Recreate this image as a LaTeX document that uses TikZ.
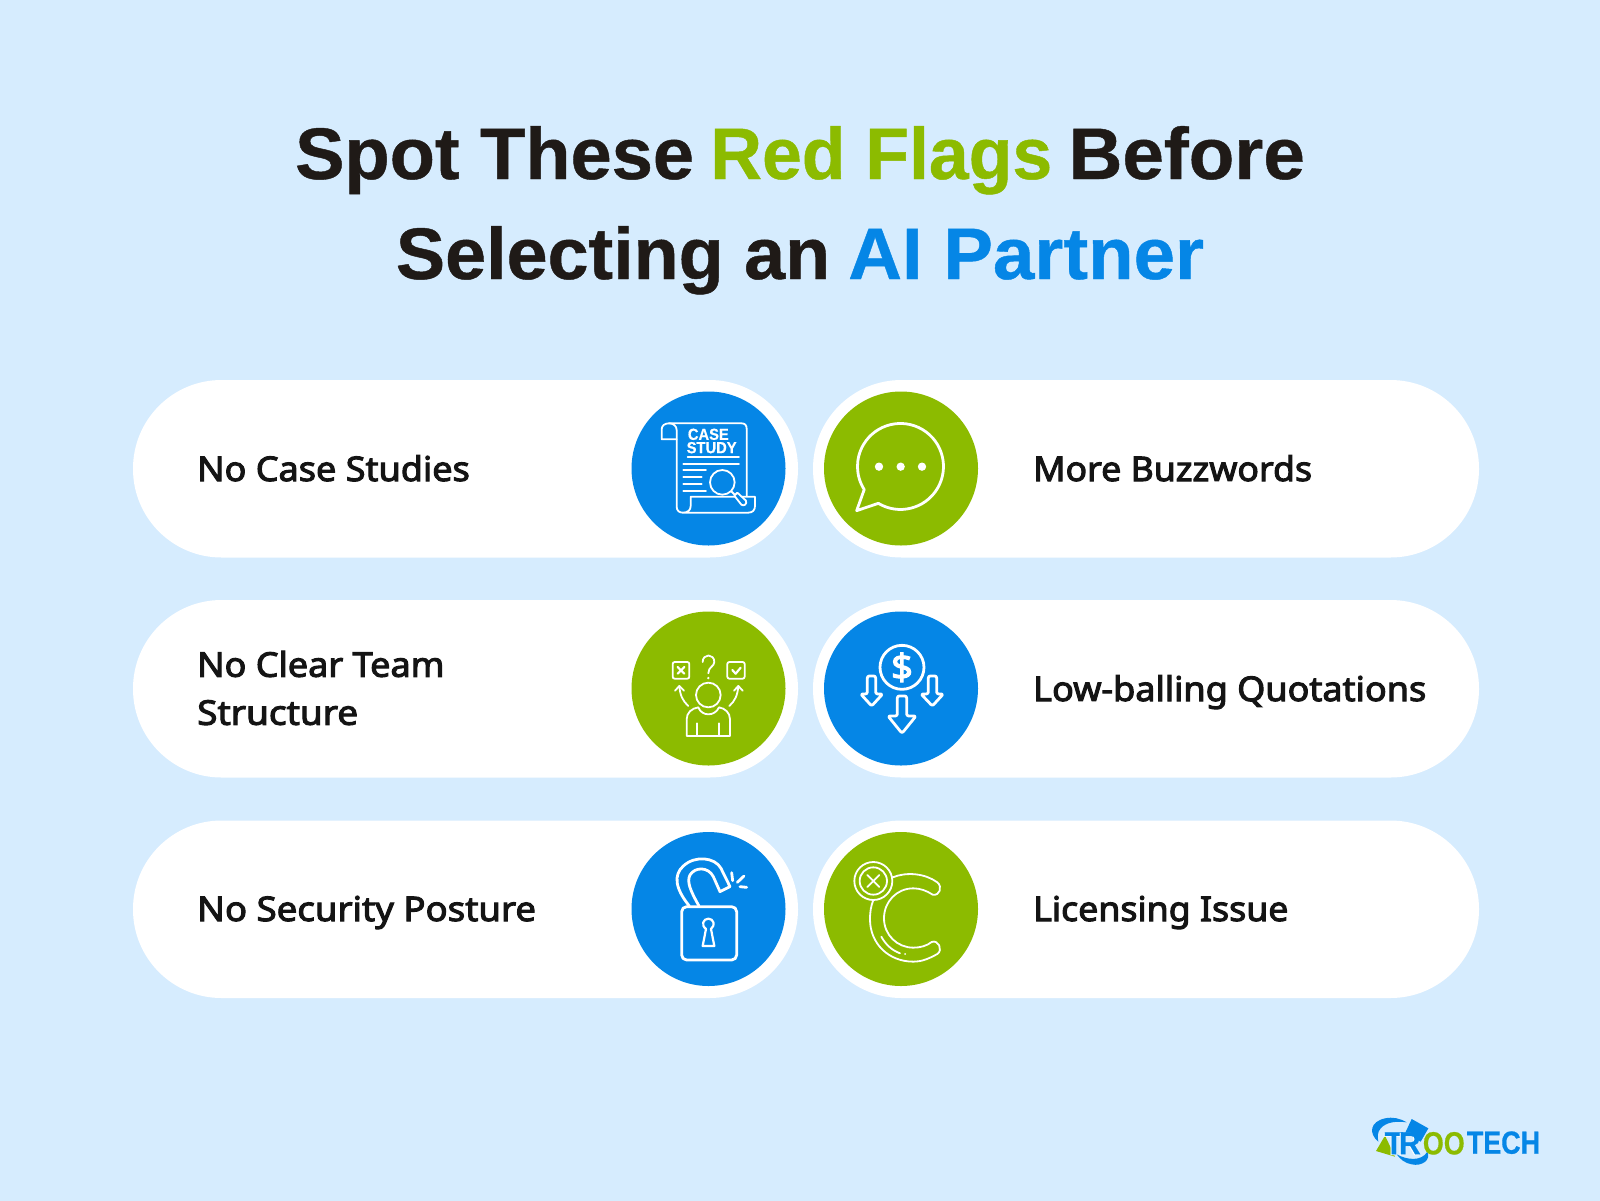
\documentclass[tikz,border=0pt]{standalone}
\usepackage{fontspec}
\setmainfont{Noto Sans}
\newfontfamily\lblfont{Noto Sans}[FakeBold=3,FakeStretch=1.06]
\newfontfamily\titlefont{Liberation Sans}[BoldFont={Liberation Sans Bold},BoldFeatures={FakeBold=0.6}]
\definecolor{bgblue}{HTML}{D6ECFE}
\definecolor{iconblue}{HTML}{0586E6}
\definecolor{icongreen}{HTML}{8CBB00}
\definecolor{inkdark}{HTML}{1F1A17}
\tikzset{
  pill/.style={fill=white,draw=none},
  disc/.style={circle,minimum size=154pt,inner sep=0pt,draw=none},
  lbl/.style={anchor=base west,align=left,font=\lblfont\fontsize{34}{48}\selectfont,text=black!92,inner sep=0pt},
  ttl/.style={anchor=base,font=\titlefont\fontsize{73}{73}\selectfont\bfseries,text=inkdark,inner sep=0pt},
  ico/.style={draw=white,line width=1.8pt,line cap=round,line join=round},
  icoT/.style={draw=white,line width=2.8pt,line cap=round,line join=round},
  lgo/.style={anchor=base west,font=\titlefont\fontsize{32}{32}\selectfont\bfseries,inner sep=0pt},
  csw/.style={font=\titlefont\fontsize{16}{16}\selectfont\bfseries,text=white,inner sep=0pt},
  zoomed/.style={x=0.3333pt,y=-0.3333pt}
}
\begin{document}
\begin{tikzpicture}[x=1pt,y=-1pt]
\useasboundingbox (0,0) rectangle (1600,1200);
\fill[bgblue] (-3,-3) rectangle (1603,1203);
% title
\node[ttl] (t1) at (800,179) {\scalebox{1.014}[1]{Spot These}\hspace{16.3pt}\textcolor{icongreen}{\scalebox{0.98}[1]{Red Flags}}\hspace{16.3pt}\scalebox{1.022}[1]{Before}};
\node[ttl] (t2) at (800,279) {\scalebox{1.01}[1]{Selecting an}\hspace{18pt}\textcolor{iconblue}{\scalebox{1.02}[1]{AI Partner}}};
% pills
\foreach \y in {380,600,820.5}{
  \fill[pill,rounded corners=88.5pt] (133,\y) rectangle (798,\y+177.5);
  \fill[pill,rounded corners=88.5pt] (813,\y) rectangle (1479,\y+177.5);
}
% discs
\node[disc,fill=iconblue] (d1) at (708.5,468.5) {};
\node[disc,fill=icongreen] (d2) at (708.5,688.5) {};
\node[disc,fill=iconblue] (d3) at (708.5,909) {};
\node[disc,fill=icongreen] (d4) at (901,468.5) {};
\node[disc,fill=iconblue] (d5) at (901,688.5) {};
\node[disc,fill=icongreen] (d6) at (901,909) {};
% labels
\node[lbl] (l1) at (197,481) {No Case Studies};
\node[lbl,anchor=west] (l2) at (197,688) {No Clear Team\\\scalebox{1.025}[1]{Structure}};
\node[lbl] (l3) at (197,921) {\scalebox{1.015}[1]{No Security Posture}};
\node[lbl] (l4) at (1033,481) {\scalebox{0.99}[1]{More Buzzwords}};
\node[lbl] (l5) at (1033,701) {Low-balling Quotations};
\node[lbl] (l6) at (1033,921) {\scalebox{0.99}[1]{Licensing Issue}};
% icon 1 case study
\begin{scope}[shift={(620,380)},zoomed]
\draw[ico] (170,178) -- (125,178) -- (125,148) .. controls (125,136) and (135,130) .. (147,130) -- (365,130) .. controls (375,130) and (380,136) .. (380,146) -- (380,348);
\draw[ico] (147,130) .. controls (160,130) and (170,138) .. (170,150) -- (170,380) .. controls (170,392) and (178,398) .. (188,398) -- (385,398) .. controls (398,398) and (405,390) .. (405,378) -- (405,350) -- (212,350) -- (212,378) .. controls (212,390) and (204,398) .. (188,398);
\node[csw] (cs1) at (265,163) {\scalebox{0.92}[1]{CASE}};
\node[csw] (cs2) at (275,203) {\scalebox{0.92}[1]{STUDY}};
\draw[ico] (203,230) -- (357,230) (190,251) -- (357,251) (190,270) -- (258,270) (190,291) -- (245,291) (190,312) -- (245,312) (190,333) -- (258,333);
\draw[ico,fill=iconblue] (307,307) circle (37);
\draw[ico] (334,334) -- (345,345);
\draw[ico,fill=iconblue] (343,347) -- (352,338) -- (378,362) .. controls (382,372) and (372,380) .. (364,374) -- cycle;
\end{scope}
% icon 2 team
\begin{scope}[shift={(620,600)},zoomed]
\draw[ico] (265,285) circle (37);
\draw[ico] (200,408) -- (200,358) .. controls (200,338) and (215,325) .. (235,322) .. controls (245,350) and (285,350) .. (297,322) .. controls (315,325) and (330,338) .. (330,358) -- (330,408) -- cycle;
\draw[ico] (232,370) -- (232,408) (298,370) -- (298,408);
\draw[ico,rounded corners=2pt] (158,186) rectangle (208,236);
\draw[ico,rounded corners=2pt] (322,186) rectangle (374,236);
\draw[ico,line width=2.2pt] (173,201) -- (193,221) (193,201) -- (173,221);
\draw[ico,line width=2.2pt] (337,210) -- (347,221) -- (362,203);
\draw[ico] (248,186) .. controls (248,160) and (283,160) .. (283,186) .. controls (283,200) and (265,200) .. (265,220);
\fill[white] (265,234) circle (4);
\draw[ico] (205,318) .. controls (188,303) and (180,285) .. (178,258);
\draw[ico] (165,272) -- (178,258) -- (192,272);
\draw[ico] (328,318) .. controls (345,303) and (353,285) .. (355,258);
\draw[ico] (342,272) -- (355,258) -- (368,272);
\end{scope}
% icon 3 lock
\begin{scope}[shift={(620,820)},zoomed]
\draw[icoT,rounded corners=5pt] (185,260) rectangle (350,420);
\draw[ico,line width=2.2pt] (258,327) .. controls (242,315) and (250,296) .. (265,296) .. controls (280,296) and (288,315) .. (273,327) -- (283,378) -- (248,378) -- cycle;
\draw[icoT] (208,258) .. controls (165,205) and (160,165) .. (190,138) .. controls (225,105) and (285,112) .. (303,145) -- (330,200) -- (300,215) -- (280,170) .. controls (265,140) and (225,140) .. (210,165) .. controls (200,185) and (210,210) .. (237,258);
\draw[icoT] (335,158) -- (338,182) (372,168) -- (352,187) (380,202) -- (360,200);
\end{scope}
% icon 4 bubble
\begin{scope}[shift={(810,380)},zoomed]
\draw[line width=2.8pt,draw=white,line join=round] (205,370) arc (121:-212.5:129) -- (140,392) -- cycle;
\fill[white] (207,260) circle (12.5) (272,260) circle (12.5) (336,260) circle (12.5);
\end{scope}
% icon 5 price
\begin{scope}[shift={(810,600)},zoomed]
\draw[icoT] (276,202) circle (66);
\node[font=\lblfont\fontsize{36}{36}\selectfont,text=white,inner sep=0pt] (dollar) at (276,202) {\$};
\draw[icoT,rounded corners=2pt] (262,288) -- (290,288) -- (290,348) -- (318,348) -- (276,400) -- (234,348) -- (262,348) -- cycle;
\draw[icoT,rounded corners=2pt] (172,228) -- (197,228) -- (197,282) -- (218,282) -- (185,318) -- (152,282) -- (172,282) -- cycle;
\draw[icoT,rounded corners=2pt] (355,228) -- (380,228) -- (380,282) -- (400,282) -- (367,318) -- (333,282) -- (355,282) -- cycle;
\end{scope}
% icon 6 licence
\begin{scope}[shift={(810,820)},zoomed]
\draw[ico] (190,183) circle (57) (190,183) circle (41);
\draw[ico] (172,165) -- (208,201) (208,165) -- (172,201);
\draw[ico] (248,172) .. controls (290,155) and (345,160) .. (382,187) .. controls (398,200) and (390,228) .. (368,224) .. controls (350,212) and (330,205) .. (310,205) .. controls (260,205) and (222,245) .. (222,295) .. controls (222,345) and (262,383) .. (310,383) .. controls (330,383) and (350,378) .. (365,366) .. controls (385,358) and (400,390) .. (382,402) .. controls (350,420) and (330,425) .. (310,425) .. controls (235,425) and (180,370) .. (180,298) .. controls (180,275) and (183,258) .. (190,240);
\draw[ico] (214,350) .. controls (228,375) and (245,390) .. (270,400);
\fill[white] (285,402) circle (3);
\end{scope}
% logo
\begin{scope}[shift={(1350,1095)},zoomed]
\fill[iconblue] (85,140) .. controls (55,115) and (60,80) .. (105,70) .. controls (128,65) and (150,70) .. (170,82) .. controls (140,78) and (110,80) .. (92,100) .. controls (82,112) and (82,125) .. (85,140) -- cycle;
\fill[iconblue] (140,178) .. controls (170,195) and (215,200) .. (232,170) .. controls (244,195) and (215,215) .. (185,208) .. controls (165,205) and (150,192) .. (140,178) -- cycle;
\fill[iconblue] (185,72) -- (235,100) -- (212,140) -- (165,115) -- cycle;
\fill[icongreen] (105,122) -- (135,185) -- (78,168) -- cycle;
\node[lgo,text=white] (lg0a) at (100,180) {\scalebox{0.95}[1]{T}};
\node[lgo,text=iconblue] (lg0b) at (103,178) {\scalebox{0.95}[1]{T}};
\node[lgo,text=white] (lg0c) at (143,180) {\scalebox{0.95}[1]{R}};
\node[lgo,text=iconblue] (lg0d) at (146,178) {\scalebox{0.95}[1]{R}};
\node[lgo,text=icongreen] (lg1) at (218,178) {\scalebox{0.84}[1]{OO}};
\node[lgo,text=iconblue] (lg2) at (350,176) {\scalebox{0.84}[1]{TECH}};
\end{scope}
\end{tikzpicture}
\end{document}
